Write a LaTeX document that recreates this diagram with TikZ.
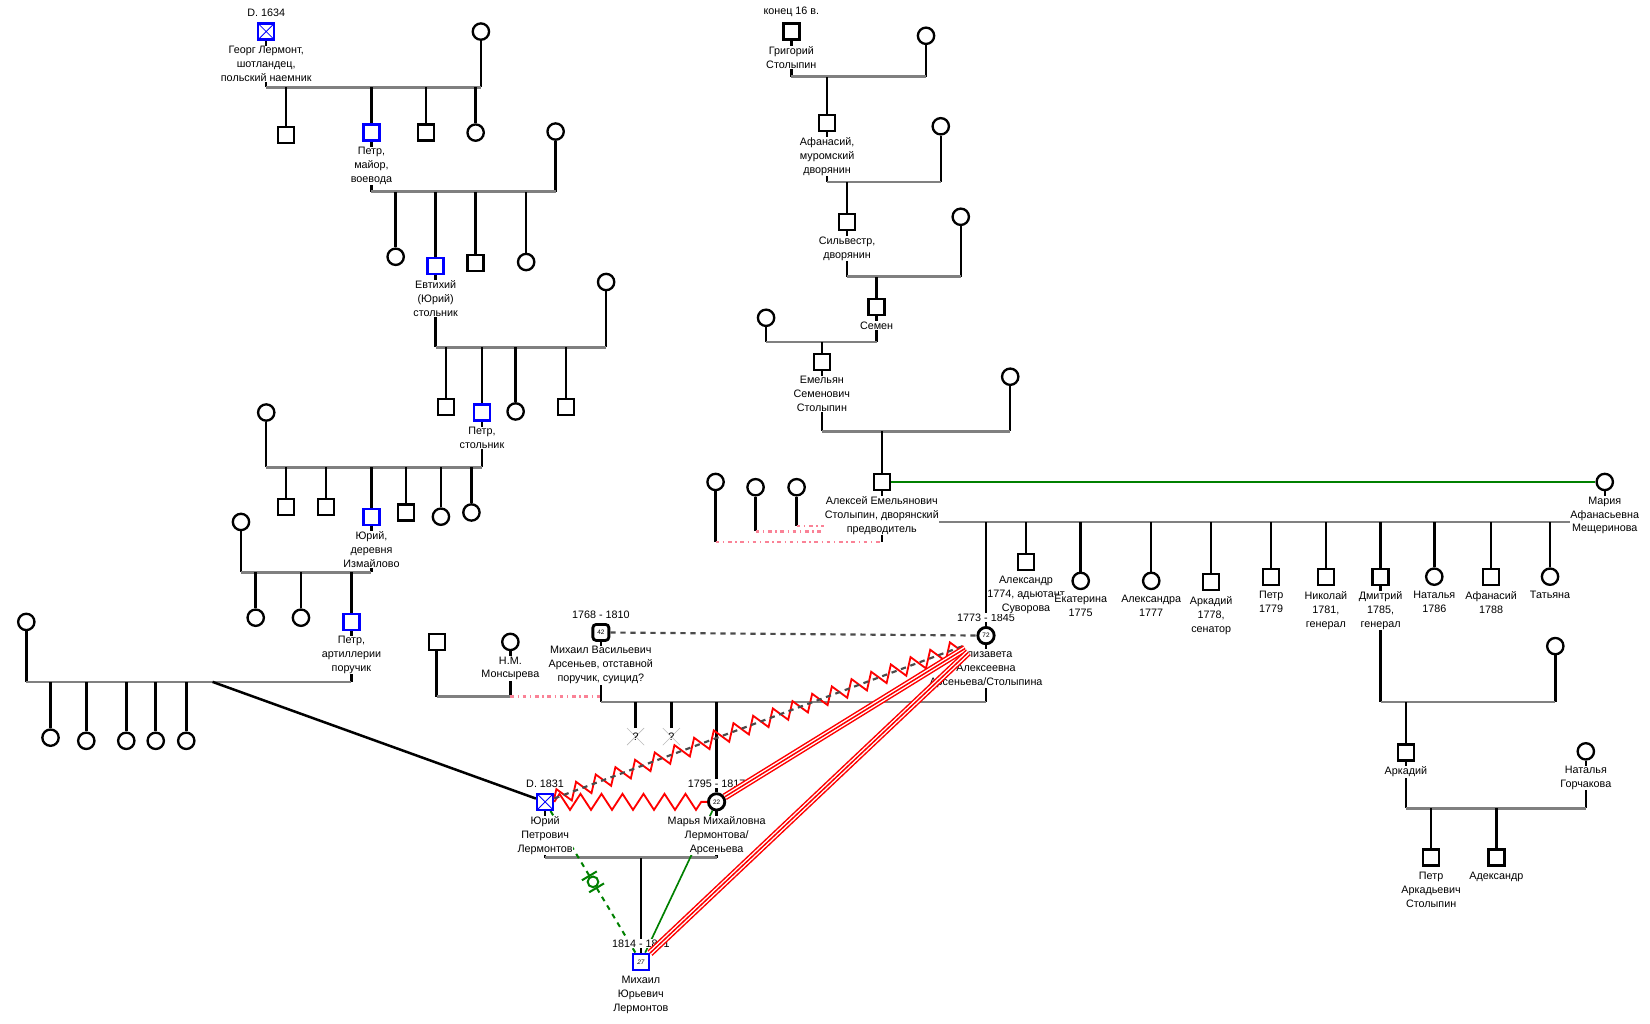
\documentclass[tikz,border=0pt]{standalone}
\usepackage{fontspec}
\setmainfont{Liberation Sans}
\usetikzlibrary{positioning,backgrounds,decorations.pathmorphing}
\definecolor{bargray}{RGB}{128,128,128}
\definecolor{pinkline}{RGB}{250,130,150}
\definecolor{relgreen}{RGB}{0,128,0}
\definecolor{distgray}{RGB}{75,75,75}
\newcommand\agefont{\fontsize{5.5}{6}\selectfont}

\begin{document}
\begin{tikzpicture}[x=0.3157mm,y=-0.3157mm,
	every node/.style={font=\fontsize{9.2}{11.9}\selectfont},
	male/.style={draw,line width=0.7mm,fill=white,minimum size=4.8mm,inner sep=0pt},
	fem/.style={male,circle,minimum size=4.9mm},
	blu/.style={draw=blue},
	deadx/.style={path picture={\draw[blue,line width=0.25mm] (path picture bounding box.south west) -- (path picture bounding box.north east) (path picture bounding box.north west) -- (path picture bounding box.south east);}},
	lbl/.style={align=center,fill=white,inner sep=0.4pt},
	vl/.style={line width=0.75mm},
	bar/.style={line width=0.8mm,draw=bargray},
	brkline/.style={line width=0.7mm,draw=pinkline,dash pattern=on 1.1mm off 1.1mm on 0.4mm off 1.1mm},
	hostile/.style={draw=red,line width=0.55mm,decorate,decoration={zigzag,segment length=6.3mm,amplitude=2.4mm}},
	distant/.style={draw=distgray,line width=0.65mm,dash pattern=on 1.6mm off 1.4mm},
	fused/.style={draw=red,line width=0.45mm,preaction={draw=red,line width=0.45mm,double=white,double distance=1.3mm}}]
	\useasboundingbox (0,0) rectangle (1568,973);

	\node[male,blu,deadx] (georg) at (253,30) {};
	\node[fem] (wA) at (457,30) {};
	\node[male] (a1) at (272,128) {};
	\node[male,blu] (petrA) at (353,126) {};
	\node[male] (a3) at (405,126) {};
	\node[fem] (a4) at (452,126) {};
	\node[fem] (wB) at (528,125) {};
	\node[fem] (b1) at (376,244) {};
	\node[male,blu] (evt) at (414,253) {};
	\node[male] (b3) at (452,250) {};
	\node[fem] (b4) at (500,249) {};
	\node[fem] (wC) at (576,268) {};
	\node[male] (c1) at (424,387) {};
	\node[male,blu] (petrC) at (458,392) {};
	\node[fem] (c3) at (490,391) {};
	\node[male] (c4) at (538,387) {};
	\node[fem] (wD) at (253,392) {};
	\node[male] (d1) at (272,482) {};
	\node[male] (d2) at (310,482) {};
	\node[male,blu] (yuriD) at (353,491) {};
	\node[male] (d4) at (386,487) {};
	\node[fem] (d5) at (419,491) {};
	\node[fem] (d6) at (448,487) {};
	\node[fem] (wE) at (229,496) {};
	\node[fem] (e1) at (243,587) {};
	\node[fem] (e2) at (286,587) {};
	\node[male,blu] (petrE) at (334,591) {};
	\node[fem] (wF) at (25,591) {};
	\foreach \x/\y [count=\i] in {48/701,82/704,120/704,148/704,177/704}
		\node[fem] (f\i) at (\x,\y) {};
	\node[male,blu,deadx] (yuriP) at (518,762) {};

	\node[male] (grig) at (752,30) {};
	\node[fem] (wG) at (880,34) {};
	\node[male] (afan) at (786,117) {};
	\node[fem] (wH) at (894,120) {};
	\node[male] (silv) at (805,211) {};
	\node[fem] (wI) at (913,206) {};
	\node[male] (semen) at (833,292) {};
	\node[fem] (wJ) at (728,302) {};
	\node[male] (emel) at (781,344) {};
	\node[fem] (wK) at (960,358) {};
	\node[male] (aleks) at (838,458) {};
	\node[fem] (maria) at (1525,458) {};
	\node[fem] (o1) at (680,458) {};
	\node[fem] (o2) at (718,463) {};
	\node[fem] (o3) at (757,463) {};
	\node[fem,line width=0.85mm,font=\agefont] (eliz) at (937,604) {72};
	\node[male] (alexr) at (975,534) {};
	\node[fem] (ekat) at (1027,552) {};
	\node[fem] (alexa) at (1094,552) {};
	\node[male] (arkS) at (1151,553) {};
	\node[male] (petrS) at (1208,548) {};
	\node[male] (nikol) at (1260,548) {};
	\node[male] (dmitr) at (1312,548) {};
	\node[fem] (natS) at (1363,548) {};
	\node[male] (afanS) at (1417,548) {};
	\node[fem] (tatS) at (1473,548) {};
	\node[fem] (wM) at (1478,614) {};
	\node[male] (ark2) at (1336,715) {};
	\node[fem] (natG) at (1507,714) {};
	\node[male] (petrAS) at (1360,815) {};
	\node[male] (adeks) at (1422,815) {};

	\node[male] (arsA) at (415,610) {};
	\node[fem] (mons) at (485,610) {};
	\node[male,rounded corners=1mm,line width=0.85mm,font=\agefont] (mikhA) at (571,601) {42};
	\node[inner sep=0pt,minimum size=5mm] (q1) at (604,700) {?};
	\node[inner sep=0pt,minimum size=5mm] (q2) at (638,700) {?};
	\node[fem,line width=0.85mm,font=\agefont] (marya) at (681,762) {22};
	\node[male,blu,font=\agefont\itshape] (mikhY) at (609,914) {27};

	\coordinate (mA) at (0,83);
	\coordinate (mB) at (0,182);
	\coordinate (mC) at (0,330);
	\coordinate (mD) at (0,444);
	\coordinate (mE) at (0,544);
	\coordinate (mF) at (0,648);
	\coordinate (fY) at (202,648);
	\coordinate (mG) at (0,73);
	\coordinate (mH) at (0,173);
	\coordinate (mI) at (0,263);
	\coordinate (mJ) at (0,325);
	\coordinate (mK) at (0,410);
	\coordinate (mL) at (0,496);
	\coordinate (pL1) at (0,515);
	\coordinate (pL2) at (0,505);
	\coordinate (pL3) at (0,500);
	\coordinate (mM) at (0,667);
	\coordinate (mN) at (0,768);
	\coordinate (mO) at (0,662);
	\coordinate (mP) at (0,667);
	\coordinate (mQ) at (0,815);
	\coordinate (elizIn) at ([shift={(-22,10)}]eliz.center);

	\begin{pgfonlayer}{background}
		\draw[vl] (georg) -- (georg |- mA) (wA) -- (wA |- mA);
		\draw[bar] (georg |- mA) -- (wA |- mA);
		\foreach \k in {a1,petrA,a3,a4} \draw[vl] (\k) -- (\k |- mA);
		\draw[vl] (petrA) -- (petrA |- mB) (wB) -- (wB |- mB);
		\draw[bar] (petrA |- mB) -- (wB |- mB);
		\foreach \k in {b1,evt,b3,b4} \draw[vl] (\k) -- (\k |- mB);
		\draw[vl] (evt) -- (evt |- mC) (wC) -- (wC |- mC);
		\draw[bar] (evt |- mC) -- (wC |- mC);
		\foreach \k in {c1,petrC,c3,c4} \draw[vl] (\k) -- (\k |- mC);
		\draw[vl] (petrC) -- (petrC |- mD) (wD) -- (wD |- mD);
		\draw[bar] (wD |- mD) -- (petrC |- mD);
		\foreach \k in {d1,d2,yuriD,d4,d5,d6} \draw[vl] (\k) -- (\k |- mD);
		\draw[vl] (yuriD) -- (yuriD |- mE) (wE) -- (wE |- mE);
		\draw[bar] (wE |- mE) -- (yuriD |- mE);
		\foreach \k in {e1,e2,petrE} \draw[vl] (\k) -- (\k |- mE);
		\draw[vl] (petrE) -- (petrE |- mF) (wF) -- (wF |- mF);
		\draw[bar] (wF |- mF) -- (petrE |- mF);
		\foreach \k in {f1,f2,f3,f4,f5} \draw[vl] (\k) -- (\k |- mF);
		\draw[vl] (fY) -- (yuriP);

		\draw[vl] (grig) -- (grig |- mG) (wG) -- (wG |- mG);
		\draw[bar] (grig |- mG) -- (wG |- mG);
		\draw[vl] (afan) -- (afan |- mG);
		\draw[vl] (afan) -- (afan |- mH) (wH) -- (wH |- mH);
		\draw[bar] (afan |- mH) -- (wH |- mH);
		\draw[vl] (silv) -- (silv |- mH);
		\draw[vl] (silv) -- (silv |- mI) (wI) -- (wI |- mI);
		\draw[bar] (silv |- mI) -- (wI |- mI);
		\draw[vl] (semen) -- (semen |- mI);
		\draw[vl] (semen) -- (semen |- mJ) (wJ) -- (wJ |- mJ);
		\draw[bar] (wJ |- mJ) -- (semen |- mJ);
		\draw[vl] (emel) -- (emel |- mJ);
		\draw[vl] (emel) -- (emel |- mK) (wK) -- (wK |- mK);
		\draw[bar] (emel |- mK) -- (wK |- mK);
		\draw[vl] (aleks) -- (aleks |- mK);
		\draw[relgreen,line width=0.7mm] (aleks) -- (maria);
		\draw[vl] (aleks) -- (aleks |- pL1) (maria) -- (maria |- mL);
		\draw[bar] (aleks |- mL) -- (maria |- mL);
		\draw[vl] (o1) -- (o1 |- pL1) (o2) -- (o2 |- pL2) (o3) -- (o3 |- pL3);
		\draw[brkline] (o1 |- pL1) -- (aleks |- pL1);
		\draw[brkline] (o2 |- pL2) -- (aleks |- pL2);
		\draw[brkline] (o3 |- pL3) -- (aleks |- pL3);
		\foreach \k in {eliz,alexr,ekat,alexa,arkS,petrS,nikol,dmitr,natS,afanS,tatS}
			\draw[vl] (\k) -- (\k |- mL);
		\draw[vl] (dmitr) -- (dmitr |- mM) (wM) -- (wM |- mM);
		\draw[bar] (dmitr |- mM) -- (wM |- mM);
		\draw[vl] (ark2) -- (ark2 |- mM);
		\draw[vl] (ark2) -- (ark2 |- mN) (natG) -- (natG |- mN);
		\draw[bar] (ark2 |- mN) -- (natG |- mN);
		\foreach \k in {petrAS,adeks} \draw[vl] (\k) -- (\k |- mN);

		\draw[vl] (arsA) -- (arsA |- mO) (mons) -- (mons |- mO);
		\draw[bar] (arsA |- mO) -- (mons |- mO);
		\draw[brkline] (mons |- mO) -- (mikhA |- mO);
		\draw[vl] (mikhA) -- (mikhA |- mP) (eliz) -- (eliz |- mP);
		\draw[bar] (mikhA |- mP) -- (eliz |- mP);
		\foreach \k in {q1,q2,marya} \draw[vl] (\k) -- (\k |- mP);
		\foreach \k in {q1,q2} \draw[gray!55,line width=0.2mm] (\k.north west) -- (\k.south east) (\k.north east) -- (\k.south west);
		\draw[vl] (yuriP) -- (yuriP |- mQ) (marya) -- (marya |- mQ);
		\draw[bar] (yuriP |- mQ) -- (marya |- mQ);
		\draw[vl] (mikhY) -- (mikhY |- mQ);
		\draw[relgreen,line width=0.5mm] (marya) -- (mikhY);
		\draw[relgreen,line width=0.6mm,dash pattern=on 1.5mm off 1.5mm] (yuriP) -- (mikhY)
			node[pos=0.5,sloped,minimum width=3.6mm,minimum height=4.6mm,inner sep=0pt] (cutbox) {}
			node[pos=0.5,circle,solid,draw=relgreen,fill=white,line width=0.6mm,minimum size=3.2mm,inner sep=0pt] (cutring) {};
		\draw[relgreen,line width=0.6mm] (cutbox.north east) -- (cutbox.south east) (cutbox.north west) -- (cutbox.south west);
	\end{pgfonlayer}

	\node[lbl,above=1.4mm of georg] (georgD) {D. 1634};
	\node[lbl,below=1.4mm of georg] (georgL) {Георг Лермонт,\\шотландец,\\польский наемник};
	\node[lbl,below=1.4mm of petrA] (petrAL) {Петр,\\майор,\\воевода};
	\node[lbl,below=1.4mm of evt] (evtL) {Евтихий\\(Юрий)\\стольник};
	\node[lbl,below=1.4mm of petrC] (petrCL) {Петр,\\стольник};
	\node[lbl,below=1.4mm of yuriD] (yuriDL) {Юрий,\\деревня\\Измайлово};
	\node[lbl,below=1.4mm of petrE] (petrEL) {Петр,\\артиллерии\\поручик};
	\node[lbl,above=1.4mm of grig] (grigD) {конец 16 в.};
	\node[lbl,below=1.4mm of grig] (grigL) {Григорий\\Столыпин};
	\node[lbl,below=1.4mm of afan] (afanL) {Афанасий,\\муромский\\дворянин};
	\node[lbl,below=1.4mm of silv] (silvL) {Сильвестр,\\дворянин};
	\node[lbl,below=1.4mm of semen] (semenL) {Семен};
	\node[lbl,below=1.4mm of emel] (emelL) {Емельян\\Семенович\\Столыпин};
	\node[lbl,below=1.4mm of aleks] (aleksL) {Алексей Емельянович\\Столыпин, дворянский\\предводитель};
	\node[lbl,below=1.4mm of maria] (mariaL) {Мария\\Афанасьевна\\Мещеринова};
	\node[lbl,above=1.2mm of eliz] (elizD) {1773 - 1845};
	\node[lbl,below=1.4mm of alexr] (alexrL) {Александр\\1774, адьютант\\Суворова};
	\node[lbl,below=1.4mm of ekat] (ekatL) {Екатерина\\1775};
	\node[lbl,below=1.4mm of alexa] (alexaL) {Александра\\1777};
	\node[lbl,below=1.4mm of arkS] (arkSL) {Аркадий\\1778,\\сенатор};
	\node[lbl,below=1.4mm of petrS] (petrSL) {Петр\\1779};
	\node[lbl,below=1.4mm of nikol] (nikolL) {Николай\\1781,\\генерал};
	\node[lbl,below=1.4mm of dmitr] (dmitrL) {Дмитрий\\1785,\\генерал};
	\node[lbl,below=1.4mm of natS] (natSL) {Наталья\\1786};
	\node[lbl,below=1.4mm of afanS] (afanSL) {Афанасий\\1788};
	\node[lbl,below=1.4mm of tatS] (tatSL) {Татьяна};
	\node[lbl,below=1.2mm of eliz] (elizL) {Елизавета\\Алексеевна\\Арсеньева/Столыпина};
	\node[lbl,below=1.4mm of ark2] (ark2L) {Аркадий};
	\node[lbl,below=1.4mm of natG] (natGL) {Наталья\\Горчакова};
	\node[lbl,below=1.4mm of petrAS] (petrASL) {Петр\\Аркадьевич\\Столыпин};
	\node[lbl,below=1.4mm of adeks] (adeksL) {Адександр};
	\node[lbl,below=1.4mm of mons] (monsL) {Н.М.\\Монсырева};
	\node[lbl,above=1.2mm of mikhA] (mikhAD) {1768 - 1810};
	\node[lbl,below=1.2mm of mikhA] (mikhAL) {Михаил Васильевич\\Арсеньев, отставной\\поручик, суицид?};
	\node[lbl,above=1.2mm of marya] (maryaD) {1795 - 1817};
	\node[lbl,below=1.2mm of marya] (maryaL) {Марья Михайловна\\Лермонтова/\\Арсеньева};
	\node[lbl,above=1.4mm of yuriP] (yuriPD) {D. 1831};
	\node[lbl,below=1.4mm of yuriP] (yuriPL) {Юрий\\Петрович\\Лермонтов};
	\node[lbl,above=1.4mm of mikhY] (mikhYD) {1814 - 1841};
	\node[lbl,below=1.4mm of mikhY] (mikhYL) {Михаил\\Юрьевич\\Лермонтов};

	\draw[distant] (mikhA) -- (eliz);
	\draw[hostile] (yuriP) -- (marya);
	\draw[hostile] (yuriP) -- (elizIn);
	\draw[distant] (yuriP) -- (elizIn);
	\draw[fused,shorten >=4.5mm] (marya) -- (eliz);
	\draw[fused,shorten >=4.5mm] (mikhY) -- (eliz);
\end{tikzpicture}
\end{document}
